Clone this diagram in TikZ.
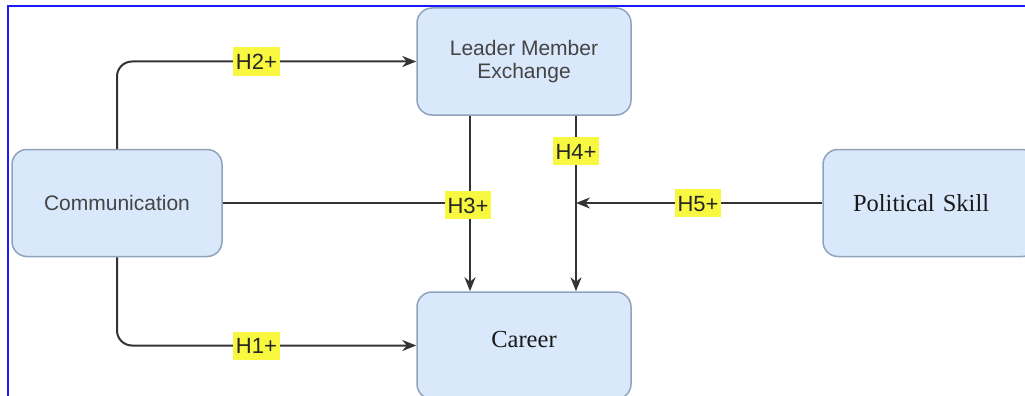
\documentclass[tikz,border=0pt]{standalone}
\usepackage{fontspec}
\setmainfont{Liberation Serif}
\setsansfont{Liberation Sans}
\usetikzlibrary{arrows.meta}
\definecolor{boxfill}{HTML}{DAE8FC}
\definecolor{boxline}{HTML}{8FA3BD}
\definecolor{conn}{HTML}{333333}
\definecolor{hlyellow}{HTML}{F8F840}
\definecolor{frameblue}{HTML}{1A1AFF}
\definecolor{sanstext}{HTML}{444444}
\tikzset{
  vbox/.style={draw=boxline, fill=boxfill, line width=1.5pt, rounded corners=15pt,
    minimum width=#1, minimum height=107pt, inner sep=0pt},
  vbox/.default=214pt,
  sanslbl/.style={font=\sffamily\fontsize{21}{23}\selectfont, text=sanstext, align=center},
  seriflbl/.style={font=\rmfamily\fontsize{24.5}{27}\selectfont, text=black!90},
  hl/.style={sharp corners, fill=hlyellow, font=\sffamily\fontsize{22}{24}\selectfont, text=black!85,
    inner xsep=3pt, inner ysep=6pt, text height=16pt, text depth=0pt},
  conline/.style={draw=conn, line width=2pt},
  arr/.style={conline, -{Stealth[length=14pt,width=11pt]}},
}
\begin{document}
\begin{tikzpicture}[x=1pt,y=-1pt]
\useasboundingbox (0,0) rectangle (1025,396);
\clip (0,0) rectangle (1025,396);
\draw[frameblue, line width=2pt] (8,400) -- (8,6) -- (1030,6);

\node[vbox=210pt, sanslbl] (comm) at (117,203) {Communication};
\node[vbox, sanslbl] (lmx) at (524,61.5) {Leader Member\\Exchange};
\node[vbox, seriflbl, text depth=13pt] (career) at (524,345.5) {Career};
\node[vbox, seriflbl, align=left, text width=154pt, inner xsep=30pt] (pol) at (930,203) {Political Skill};

\coordinate (j3) at (470,203);
\coordinate (j4) at (576,203);

\draw[arr, rounded corners=15pt] (comm.north) |- (lmx.west)
  node[hl, pos=0.733] (h2) {H2+};
\draw[arr, rounded corners=15pt] (comm.south) |- (career.west)
  node[hl, pos=0.733] (h1) {H1+};
\draw[conline] (comm.east) -- (j3);
\draw[arr] (lmx.south -| j3) -- (career.north -| j3);
\node[hl] (h3) at (468,205) {H3+};
\draw[arr] (lmx.south -| j4) -- (career.north -| j4);
\node[hl] (h4) at (576,151) {H4+};
\draw[arr] (pol.west) -- (j4);
\node[hl] (h5) at (698,203) {H5+};
\end{tikzpicture}
\end{document}
